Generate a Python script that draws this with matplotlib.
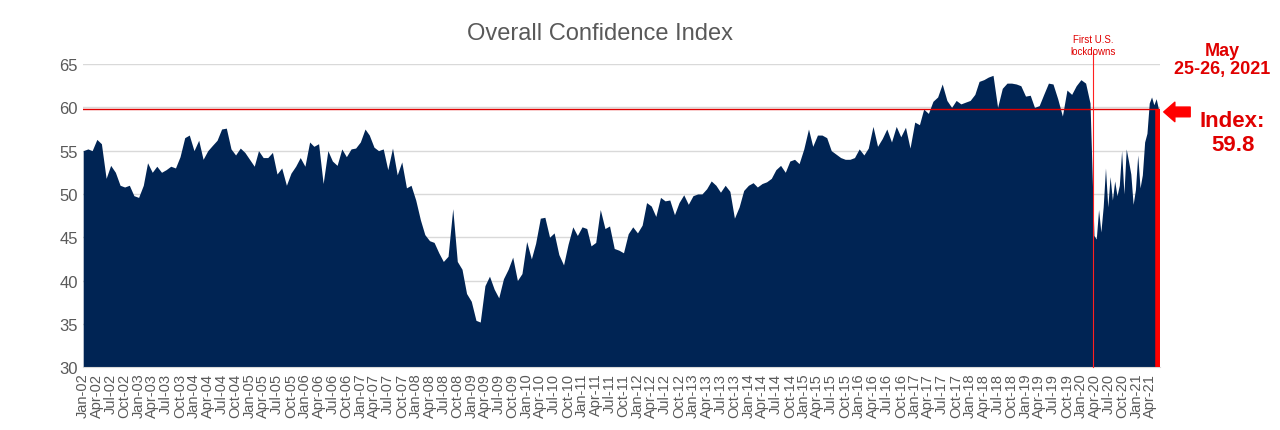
import numpy as np
import pandas as pd
import matplotlib
matplotlib.use("Agg")
import matplotlib.pyplot as plt
import matplotlib.dates as mdates

plt.rcParams["font.family"] = "Liberation Sans"

# monthly readings, Jan 2002 - Mar 2020
monthly_values = [
    55, 55.2, 55, 56.3, 55.8, 51.8, 53.3, 52.5, 51, 50.8, 51, 49.8,
    49.6, 51, 53.6, 52.5, 53.2, 52.5, 52.8, 53.2, 53, 54.3, 56.5, 56.8,
    55, 56.2, 54, 55, 55.6, 56.2, 57.5, 57.6, 55.2, 54.5, 55.3, 54.8,
    54, 53.2, 55, 54.2, 54.2, 54.8, 52.3, 53, 51, 52.4, 53.2, 54.2,
    53.2, 56, 55.5, 55.8, 51.2, 55, 53.8, 53.3, 55.2, 54.3, 55.2, 55.3,
    56, 57.5, 56.8, 55.4, 55, 55.2, 52.8, 55.3, 52.2, 53.7, 50.7, 51,
    49.3, 47, 45.3, 44.6, 44.4, 43.2, 42.2, 42.8, 48.3, 42.2, 41.3, 38.5,
    37.6, 35.4, 35.2, 39.4, 40.5, 39, 38, 40.2, 41.3, 42.7, 40, 40.8,
    44.5, 42.5, 44.3, 47.2, 47.3, 45, 45.5, 43, 41.8, 44.2, 46.2, 45.2,
    46.2, 46, 44, 44.4, 48.2, 46, 46.3, 43.7, 43.5, 43.2, 45.4, 46.2,
    45.5, 46.4, 49, 48.6, 47.4, 49.6, 49.2, 49.3, 47.6, 49, 49.9, 48.8,
    49.8, 50, 50, 50.6, 51.5, 51, 50.2, 51, 50.3, 47.2, 48.5, 50.4,
    51, 51.3, 50.8, 51.2, 51.4, 51.8, 52.8, 53.3, 52.5, 53.8, 54, 53.5,
    55.2, 57.5, 55.5, 56.8, 56.8, 56.5, 55, 54.6, 54.2, 54, 54, 54.2,
    55.2, 54.5, 55.3, 57.8, 55.5, 56.4, 57.5, 56, 57.8, 56.6, 57.7, 55.3,
    58.3, 58, 59.8, 59.3, 60.7, 61.2, 62.7, 60.8, 60, 60.8, 60.4, 60.6,
    60.8, 61.5, 63, 63.2, 63.5, 63.7, 60, 62.2, 62.8, 62.8, 62.7, 62.5,
    61.3, 61.4, 60, 60.2, 61.5, 62.8, 62.7, 61, 59, 62, 61.5, 62.5,
    63.2, 62.8, 60.5,
]
# biweekly readings after the first lockdowns, late Mar 2020 - May 2021
biweekly_values = [
    45.2, 44.8, 48.2, 45.6, 48.5, 53, 48.5, 52, 49.3, 51.5, 49.8, 51,
    55, 50, 55.2, 53.8, 52.3, 48.8, 50.5, 54.5, 50.7, 52.2, 56, 57,
    60.5, 61.2, 60.3, 61, 59.8,
]
latest_value = 59.8
lockdown_date = "2020-03-20"
latest_date = "2021-05-26"

monthly_dates = pd.date_range("2002-01-01", periods=len(monthly_values), freq="MS")
biweekly_dates = pd.date_range("2020-03-27", latest_date, periods=len(biweekly_values))
dates = monthly_dates.append(biweekly_dates)
values = np.array(monthly_values + biweekly_values)

fig = plt.figure(figsize=(12.8, 4.31), dpi=100)
ax = fig.add_axes([0.065, 0.146, 0.841, 0.703])

ax.fill_between(dates, 30, values, color="#002454", linewidth=0, zorder=2)
ax.set_ylim(30, 65)
ax.set_xlim(dates[0], pd.Timestamp(latest_date) + pd.Timedelta(days=8))
ax.set_yticks(range(30, 66, 5))
ax.yaxis.grid(True, color="#d9d9d9", linewidth=1, zorder=0)
ax.set_axisbelow(True)

# reference lines
ax.axhline(latest_value, color="#e00000", linewidth=1, zorder=3)
ax.axvline(pd.Timestamp(lockdown_date), ymax=1.04, color="#ff2020", linewidth=0.8,
           zorder=3, clip_on=False)
ax.vlines(pd.Timestamp(latest_date), 30, latest_value, color="red", linewidth=4, zorder=3)
ax.text(pd.Timestamp(lockdown_date), 65.9, "First U.S.\nlockdowns", color="#e00000",
        fontsize=7, ha="center", va="bottom", linespacing=1.3)

ax.xaxis.set_major_locator(mdates.MonthLocator(bymonth=[1, 4, 7, 10]))
ax.xaxis.set_major_formatter(mdates.DateFormatter("%b-%y"))
plt.setp(ax.get_xticklabels(), rotation=90, fontsize=10.5, color="#595959")
plt.setp(ax.get_yticklabels(), fontsize=12, color="#595959")
ax.tick_params(length=0, pad=4)
for s in ["top", "right", "left"]:
    ax.spines[s].set_visible(False)
ax.spines["bottom"].set_color("#d9d9d9")

fig.text(0.469, 0.92, "Overall Confidence Index", ha="center", va="center",
         fontsize=17, color="#595959")
fig.text(0.955, 0.86, "May\n25-26, 2021", ha="center", va="center", fontsize=13,
         color="#e00000", fontweight="bold", linespacing=1.1)
fig.text(0.963, 0.69, "Index:\n59.8", ha="center", va="center", fontsize=16,
         color="#e00000", fontweight="bold", linespacing=1.2)
ax.annotate("", xy=(0.907, 0.738), xycoords="figure fraction",
            xytext=(0.932, 0.738), textcoords="figure fraction",
            arrowprops=dict(arrowstyle="simple,head_width=1.4,head_length=0.8,tail_width=0.7",
                            color="red"))

fig.savefig("out.png", dpi=100)
